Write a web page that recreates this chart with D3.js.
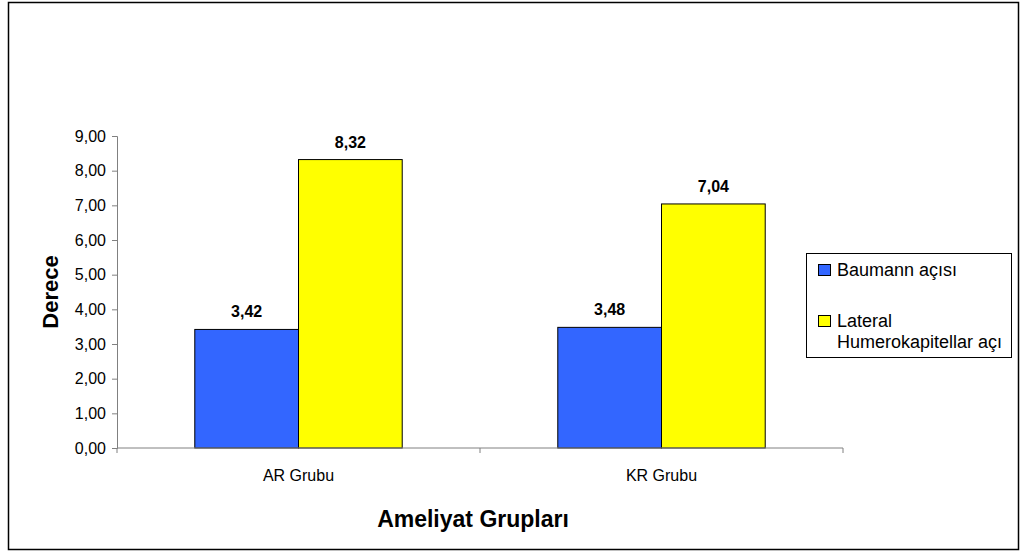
<!DOCTYPE html>
<html>
<head>
<meta charset="utf-8">
<script src="https://cdn.jsdelivr.net/npm/d3@7"></script>
<style>
  html, body { margin: 0; padding: 0; background: #fff; }
  svg { display: block; font-family: Arial, "Liberation Sans", Helvetica, sans-serif; }
</style>
</head>
<body>
<svg id="chart" width="1020" height="552"></svg>
<script>
// Groups and the two angle measures (degrees)
const categories = ["AR Grubu", "KR Grubu"];
const seriesNames = ["Baumann açısı", "Lateral Humerokapitellar açı"];
const baumann = [3.42, 3.48];
const lateral = [8.32, 7.04];
const yTicks = [0, 1, 2, 3, 4, 5, 6, 7, 8, 9];
const seriesColors = ["#3366FF", "#FFFF00"];

const fmt = v => d3.format(".2f")(v).replace(".", ",");

const svg = d3.select("#chart");

// outer frame
svg.append("rect")
  .attr("x", 8.5).attr("y", 2.5).attr("width", 1010).attr("height", 547)
  .attr("fill", "#fff").attr("stroke", "#000").attr("stroke-width", 1.5);

const plot = { left: 117, right: 843, top: 136, bottom: 448 };

const x = d3.scaleBand().domain(categories).range([plot.left, plot.right]);
const xs = d3.scaleBand().domain(d3.range(seriesNames.length))
  .range([0, x.bandwidth()]).paddingInner(0).paddingOuter(0.75);
const y = d3.scaleLinear().domain([0, 9]).range([plot.bottom, plot.top]);

// bars
const seriesData = [baumann, lateral];
seriesData.forEach((vals, si) => {
  svg.append("g").selectAll("rect")
    .data(vals)
    .join("rect")
    .attr("x", (d, i) => x(categories[i]) + xs(si))
    .attr("y", d => y(d))
    .attr("width", xs.bandwidth())
    .attr("height", d => y(0) - y(d))
    .attr("fill", seriesColors[si])
    .attr("stroke", "#000").attr("stroke-width", 1);

  svg.append("g").selectAll("text")
    .data(vals)
    .join("text")
    .attr("x", (d, i) => x(categories[i]) + xs(si) + xs.bandwidth() / 2)
    .attr("y", d => y(d) - 12)
    .attr("text-anchor", "middle")
    .attr("font-size", 16).attr("font-weight", "bold")
    .attr("fill", "#000")
    .text(d => fmt(d));
});

// y axis
const yAxis = d3.axisLeft(y).tickValues(yTicks).tickSize(5).tickPadding(6).tickFormat(fmt);
const gy = svg.append("g").attr("transform", `translate(${plot.left},0)`).call(yAxis);
gy.select(".domain").attr("stroke", "#808080");
gy.selectAll(".tick line").attr("stroke", "#808080");
gy.selectAll(".tick text").attr("font-size", 16).attr("fill", "#000")
  .attr("font-family", "Arial, 'Liberation Sans', sans-serif");

// x axis: line with ticks at category boundaries
const gx = svg.append("g").attr("transform", `translate(0,${plot.bottom})`);
gx.append("line").attr("x1", plot.left).attr("x2", plot.right)
  .attr("stroke", "#808080").attr("stroke-width", 1);
const bounds = [plot.left, ...categories.slice(1).map(c => x(c)), plot.right];
gx.selectAll("line.tk").data(bounds).join("line").attr("class", "tk")
  .attr("x1", d => d).attr("x2", d => d).attr("y1", 0).attr("y2", 5)
  .attr("stroke", "#808080");
gx.selectAll("text").data(categories).join("text")
  .attr("x", d => x(d) + x.bandwidth() / 2)
  .attr("y", 33)
  .attr("text-anchor", "middle")
  .attr("font-size", 16).attr("fill", "#000")
  .text(d => d);

// axis titles
svg.append("text")
  .attr("transform", "translate(58,292) rotate(-90)")
  .attr("text-anchor", "middle")
  .attr("font-size", 22).attr("font-weight", "bold")
  .text("Derece");
svg.append("text")
  .attr("x", 473).attr("y", 527)
  .attr("text-anchor", "middle")
  .attr("font-size", 23).attr("font-weight", "bold")
  .text("Ameliyat Grupları");

// legend
const lg = svg.append("g");
lg.append("rect").attr("x", 806.5).attr("y", 253.5).attr("width", 205).attr("height", 104)
  .attr("fill", "#fff").attr("stroke", "#000").attr("stroke-width", 1);
const legendRows = [
  { color: seriesColors[0], lines: ["Baumann açısı"], y: 276 },
  { color: seriesColors[1], lines: ["Lateral", "Humerokapitellar açı"], y: 327 }
];
legendRows.forEach(r => {
  lg.append("rect").attr("x", 818.5).attr("y", r.y - 11.5).attr("width", 12).attr("height", 11)
    .attr("fill", r.color).attr("stroke", "#000").attr("stroke-width", 1);
  r.lines.forEach((t, i) => {
    lg.append("text").attr("x", 837).attr("y", r.y + i * 21)
      .attr("font-size", 18).attr("fill", "#000").text(t);
  });
});
</script>
</body>
</html>
